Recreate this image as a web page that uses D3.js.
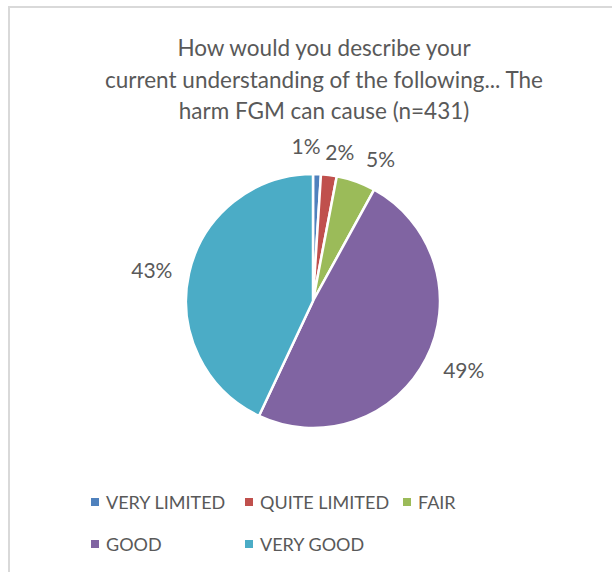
<!DOCTYPE html>
<html>
<head>
<meta charset="utf-8">
<script src="https://cdn.jsdelivr.net/npm/d3@7"></script>
<style>
  html, body { margin: 0; padding: 0; background: #fff; }
  svg { display: block; }
  text { font-family: Lato, "Noto Sans", sans-serif; fill: #595959; }
</style>
</head>
<body>
<svg id="chart" width="612" height="572"></svg>
<script>
// Survey responses: understanding of the harm FGM can cause (n=431)
const categories = ["VERY LIMITED", "QUITE LIMITED", "FAIR", "GOOD", "VERY GOOD"];
const percentages = [1, 2, 5, 49, 43];
const colors = ["#4F81BD", "#C0504D", "#9BBB59", "#8064A2", "#4BACC6"];
const titleLines = [
  "How would you describe your",
  "current understanding of the following... The",
  "harm FGM can cause (n=431)"
];

// Layout
const width = 612, height = 572;
const cx = 313, cy = 301, radius = 127;
const labelRadius = 158;
// fine placement of data labels so the small slices' labels don't collide
const labelNudge = [[-12, 2], [7, 7], [14, 6], [10, -3], [-7, 3]];
const legendCols = [91, 245, 403];
const legendRows = [502, 544];
const legendPerRow = 3;

const svg = d3.select("#chart");

// chart frame
svg.append("rect")
  .attr("x", 9).attr("y", 7)
  .attr("width", 800).attr("height", 800)
  .attr("fill", "none")
  .attr("stroke", "#d9d9d9")
  .attr("stroke-width", 2);

// title
svg.append("g")
  .selectAll("text")
  .data(titleLines)
  .join("text")
  .attr("x", 324)
  .attr("y", (d, i) => 56 + i * 31.5)
  .attr("text-anchor", "middle")
  .attr("font-size", 22.5)
  .text(d => d);

const data = categories.map((c, i) => ({ category: c, value: percentages[i], color: colors[i] }));

const pie = d3.pie().value(d => d.value).sort(null);
const arcs = pie(data);
const arc = d3.arc().innerRadius(0).outerRadius(radius);
const labelArc = d3.arc().innerRadius(labelRadius).outerRadius(labelRadius);

const g = svg.append("g").attr("transform", `translate(${cx},${cy})`);

g.selectAll("path")
  .data(arcs)
  .join("path")
  .attr("d", arc)
  .attr("fill", d => d.data.color)
  .attr("stroke", "#fff")
  .attr("stroke-width", 2.5)
  .attr("stroke-linejoin", "round");

g.selectAll("text.label")
  .data(arcs)
  .join("text")
  .attr("class", "label")
  .attr("transform", (d, i) => {
    const [x, y] = labelArc.centroid(d);
    return `translate(${x + labelNudge[i][0]},${y + labelNudge[i][1]})`;
  })
  .attr("text-anchor", "middle")
  .attr("dominant-baseline", "central")
  .attr("font-size", 21)
  .text(d => d.data.value + "%");

// legend
const legend = svg.append("g")
  .selectAll("g")
  .data(data)
  .join("g")
  .attr("transform", (d, i) =>
    `translate(${legendCols[i % legendPerRow]},${legendRows[Math.floor(i / legendPerRow)]})`);

legend.append("rect")
  .attr("x", 0).attr("y", -4)
  .attr("width", 8).attr("height", 8)
  .attr("fill", d => d.color);

legend.append("text")
  .attr("x", 15)
  .attr("y", 0)
  .attr("dominant-baseline", "central")
  .attr("font-size", 18)
  .text(d => d.category);
</script>
</body>
</html>
